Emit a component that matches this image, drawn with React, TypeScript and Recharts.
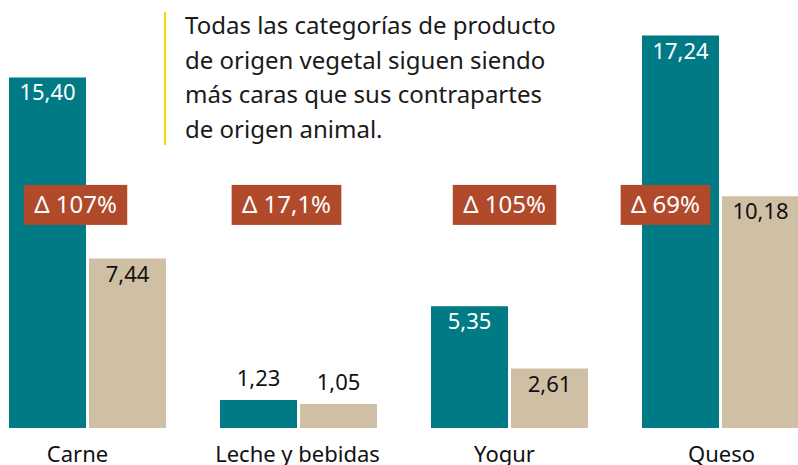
import { BarChart, Bar, XAxis, YAxis, LabelList } from 'recharts';

// Precio medio (EUR/kg) por categoría
const categories = ['Carne', 'Leche y bebidas', 'Yogur', 'Queso'];
const vegetalValues = [15.4, 1.23, 5.35, 17.24];
const animalValues = [7.44, 1.05, 2.61, 10.18];
const deltaLabels = ['Δ 107%', 'Δ 17,1%', 'Δ 105%', 'Δ 69%'];

const TEAL = '#007a84';
const BEIGE = '#cfc0a5';
const BADGE = '#b04a2a';
const FONT = '"Noto Sans", sans-serif';

// badge level (in value units) and horizontal nudges relative to group centre
const BADGE_LEVEL = 9.8;
const BADGE_SHIFT = [-12, -12, -5, -55];
// small nudges for the category labels
const TICK_SHIFT = [-10, -1, -5, 1];

const data = categories.map((name, i) => ({
  name,
  vegetal: vegetalValues[i],
  animal: animalValues[i],
}));

const fmt = (v: number) => v.toFixed(2).replace('.', ',');

const charW = (c: string) => {
  if (c === 'Δ') return 0.64;
  if (c === ' ') return 0.26;
  if (c === '%') return 0.82;
  if (c === ',') return 0.26;
  return 0.572;
};

function ValueLabel(color: string) {
  return (props: any) => {
    const { x, y, width, height, value } = props;
    const inside = height > 40;
    return (
      <text
        x={x + width / 2}
        y={inside ? y + 23 : y - 14}
        textAnchor="middle"
        fontFamily={FONT}
        fontSize={22}
        fill={inside ? color : '#111'}
      >
        {fmt(value)}
      </text>
    );
  };
}

function BadgeLabel(props: any) {
  const { x, y, width, height, value, index } = props;
  const base = y + height;
  const perUnit = height / value;
  const cy = base - BADGE_LEVEL * perUnit;
  const label = deltaLabels[index];
  const textW = label.split('').reduce((s, c) => s + charW(c), 0) * 24;
  const w = textW + 21;
  // group centre = right edge of teal bar + half gap
  const cx = x + width + 1.5 + BADGE_SHIFT[index];
  return (
    <g>
      <rect x={cx - w / 2} y={cy - 20} width={w} height={40} fill={BADGE} />
      <text
        x={cx}
        y={cy + 8}
        textAnchor="middle"
        fontFamily={FONT}
        fontSize={24}
        fill="#fff"
      >
        {label}
      </text>
    </g>
  );
}

const CategoryTick = ({ x, y, payload, index }: any) => (
  <text
    x={x + (TICK_SHIFT[index] ?? 0)}
    y={y + 34}
    textAnchor="middle"
    fontFamily={FONT}
    fontSize={22}
    fill="#111"
  >
    {payload.value}
  </text>
);

export default function App() {
  return (
    <div
      style={{
        position: 'absolute',
        left: 0,
        top: 0,
        width: 798,
        height: 465,
        overflow: 'hidden',
        background: '#fff',
      }}
    >
      <div style={{ position: 'absolute', left: -18, top: 0 }}>
        <BarChart
          width={844}
          height={465}
          data={data}
          margin={{ top: 0, right: 0, left: 0, bottom: 0 }}
          barSize={77}
          barGap={3}
        >
          <XAxis
            dataKey="name"
            axisLine={false}
            tickLine={false}
            tickSize={0}
            tickMargin={0}
            height={37}
            interval={0}
            tick={<CategoryTick />}
          />
          <YAxis hide domain={[0, 18.8]} />
          <Bar dataKey="vegetal" fill={TEAL} isAnimationActive={false}>
            <LabelList dataKey="vegetal" content={ValueLabel('#fff')} />
            <LabelList dataKey="vegetal" content={BadgeLabel} />
          </Bar>
          <Bar dataKey="animal" fill={BEIGE} isAnimationActive={false}>
            <LabelList dataKey="animal" content={ValueLabel('#111')} />
          </Bar>
        </BarChart>
      </div>
      <div
        style={{
          position: 'absolute',
          left: 164,
          top: 12,
          height: 133,
          borderLeft: '2px solid #ffd500',
        }}
      />
      <div
        style={{
          position: 'absolute',
          left: 185,
          top: 8,
          fontFamily: FONT,
          fontSize: 24,
          lineHeight: '34.7px',
          color: '#1a1a1a',
          width: 420,
        }}
      >
        Todas las categorías de producto
        <br />
        de origen vegetal siguen siendo
        <br />
        más caras que sus contrapartes
        <br />
        de origen animal.
      </div>
    </div>
  );
}
